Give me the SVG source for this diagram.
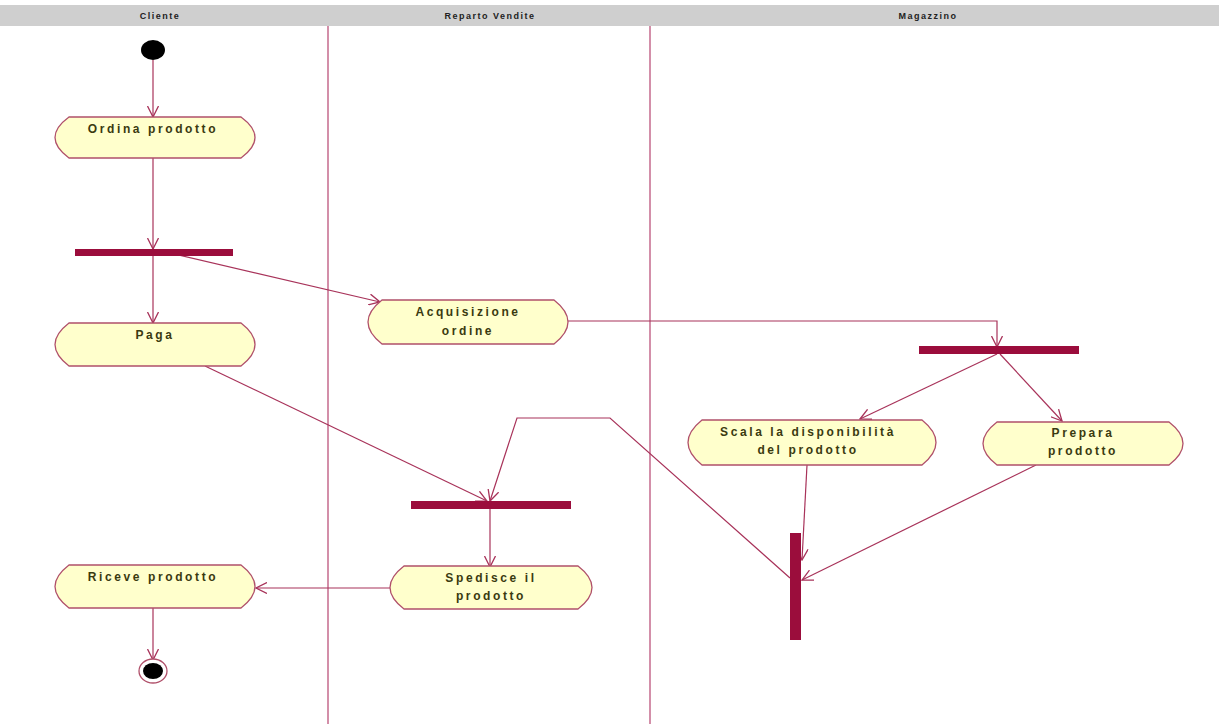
<svg xmlns="http://www.w3.org/2000/svg" width="1219" height="724" viewBox="0 0 1219 724">
<style>
.lane{stroke:#c46a8c;stroke-width:1.5;fill:none}
.hdr{font-family:"Liberation Sans",Arial,sans-serif;font-size:9px;font-weight:bold;fill:#222;letter-spacing:1.5px;text-anchor:middle}
.act{fill:#ffffcc;stroke:#b0506a;stroke-width:1.3}
.lbl{font-family:"Liberation Sans",Arial,sans-serif;font-size:12px;font-weight:bold;fill:#3a3a10;letter-spacing:2.6px;text-anchor:middle}
.bar{fill:#9b0d3c}
.con{stroke:#a8335a;stroke-width:1.2;fill:none}
</style>
<defs>
<marker id="arr" viewBox="0 0 12 12" refX="11" refY="6" markerWidth="12" markerHeight="12" markerUnits="userSpaceOnUse" orient="auto">
<path d="M0,0.5 L11,6 L0,11.5" fill="none" stroke="#a8335a" stroke-width="1.3"/>
</marker>
</defs>
<rect width="1219" height="724" fill="#ffffff"/>
<g id="header">
<rect x="0" y="5" width="1219" height="21" fill="#cfcfcf"/>
<text class="hdr" x="160" y="19">Cliente</text>
<text class="hdr" x="490" y="19">Reparto Vendite</text>
<text class="hdr" x="928" y="19">Magazzino</text>
</g>
<g id="lanes">
<line class="lane" x1="328" y1="26" x2="328" y2="724"/>
<line class="lane" x1="650" y1="26" x2="650" y2="724"/>
</g>
<g id="connectors">
<line class="con" x1="153" y1="60" x2="153" y2="117" marker-end="url(#arr)"/>
<line class="con" x1="153" y1="158" x2="153" y2="249" marker-end="url(#arr)"/>
<line class="con" x1="153" y1="256" x2="153" y2="323" marker-end="url(#arr)"/>
<line class="con" x1="170" y1="253" x2="380" y2="302" marker-end="url(#arr)"/>
<polyline class="con" points="568,321 997,321 997,347" marker-end="url(#arr)"/>
<line class="con" x1="997" y1="354" x2="860" y2="419" marker-end="url(#arr)"/>
<line class="con" x1="1000" y1="354" x2="1062" y2="421" marker-end="url(#arr)"/>
<line class="con" x1="807" y1="465" x2="802" y2="560" marker-end="url(#arr)"/>
<line class="con" x1="1036" y1="465" x2="802" y2="580" marker-end="url(#arr)"/>
<polyline class="con" points="790,578 610,418 517,418 490,501" marker-end="url(#arr)"/>
<line class="con" x1="205" y1="366" x2="487" y2="501" marker-end="url(#arr)"/>
<line class="con" x1="490" y1="509" x2="490" y2="567" marker-end="url(#arr)"/>
<line class="con" x1="390" y1="588" x2="256" y2="588" marker-end="url(#arr)"/>
<line class="con" x1="153" y1="608" x2="153" y2="660" marker-end="url(#arr)"/>
</g>
<g id="start">
<ellipse cx="153" cy="50" rx="12" ry="10" fill="#000"/>
</g>
<g id="ordina">
<path class="act" d="M69,117 L241,117 Q269,137.5 241,158 L69,158 Q41,137.5 69,117 Z"/>
<text class="lbl" x="153" y="133">Ordina prodotto</text>
</g>
<g id="fork1"><rect class="bar" x="75" y="249" width="158" height="7"/></g>
<g id="paga">
<path class="act" d="M69,323 L241,323 Q269,344.5 241,366 L69,366 Q41,344.5 69,323 Z"/>
<text class="lbl" x="155" y="339">Paga</text>
</g>
<g id="acquisizione">
<path class="act" d="M382,300 L554,300 Q582,322 554,344 L382,344 Q354,322 382,300 Z"/>
<text class="lbl" x="468" y="316">Acquisizione</text>
<text class="lbl" x="468" y="335">ordine</text>
</g>
<g id="fork2"><rect class="bar" x="919" y="346" width="160" height="8"/></g>
<g id="scala">
<path class="act" d="M702,420 L922,420 Q950,442.5 922,465 L702,465 Q674,442.5 702,420 Z"/>
<text class="lbl" x="808" y="436">Scala la disponibilità</text>
<text class="lbl" x="808" y="454">del prodotto</text>
</g>
<g id="prepara">
<path class="act" d="M997,422 L1169,422 Q1197,443.5 1169,465 L997,465 Q969,443.5 997,422 Z"/>
<text class="lbl" x="1083" y="437">Prepara</text>
<text class="lbl" x="1083" y="455">prodotto</text>
</g>
<g id="join3"><rect class="bar" x="790" y="533" width="11" height="107"/></g>
<g id="join4"><rect class="bar" x="411" y="501" width="160" height="8"/></g>
<g id="spedisce">
<path class="act" d="M404,566 L578,566 Q606,587.5 578,609 L404,609 Q376,587.5 404,566 Z"/>
<text class="lbl" x="491" y="582">Spedisce il</text>
<text class="lbl" x="491" y="600">prodotto</text>
</g>
<g id="riceve">
<path class="act" d="M69,565 L241,565 Q269,586.5 241,608 L69,608 Q41,586.5 69,565 Z"/>
<text class="lbl" x="153" y="581">Riceve prodotto</text>
</g>
<g id="end">
<ellipse cx="153" cy="671" rx="14" ry="12" fill="#fff" stroke="#b0506a" stroke-width="1.3"/>
<ellipse cx="153" cy="671" rx="10" ry="8" fill="#000"/>
</g>
</svg>
